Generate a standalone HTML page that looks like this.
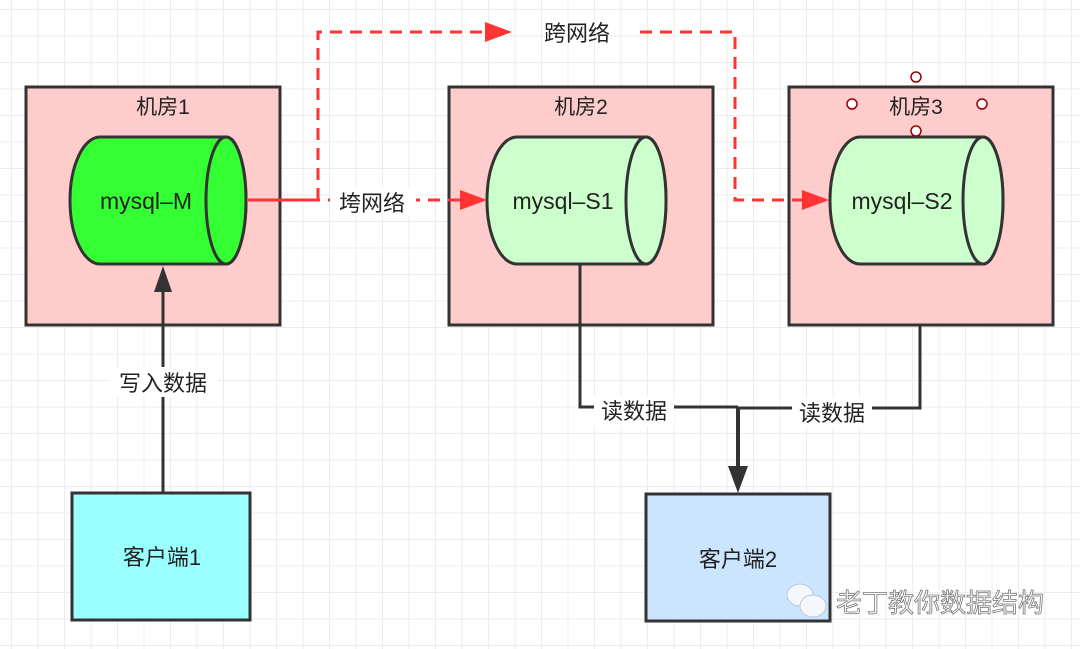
<!DOCTYPE html>
<html><head><meta charset="utf-8"><style>
body{margin:0;width:1080px;height:649px;overflow:hidden;background:#fff;
background-image:linear-gradient(#ececec 1px,transparent 1px),linear-gradient(90deg,#ececec 1px,transparent 1px);
background-size:26.5px 26.5px;background-position:11px 9px;}
svg{position:absolute;left:0;top:0}
text{font-family:"Liberation Sans","Noto Sans CJK SC",sans-serif;fill:#222;}
</style></head><body>
<svg width="1080" height="649" viewBox="0 0 1080 649">
<g stroke="#333" stroke-width="3" fill="#ffcccc">
<rect x="26" y="87" width="254" height="238"/>
<rect x="449" y="87" width="264" height="238"/>
<rect x="789" y="87" width="264" height="238"/>
</g>
<g stroke="#333" stroke-width="3">
<path d="M100,137 H226 A20,63.5 0 0 1 226,264 H100 A30,63.5 0 0 1 100,137 Z" fill="#33ff33"/>
<ellipse cx="226" cy="200.5" rx="20" ry="63.5" fill="#33ff33"/>
<path d="M517,137 H646 A20,63.5 0 0 1 646,264 H517 A30,63.5 0 0 1 517,137 Z" fill="#ccffcc"/>
<ellipse cx="646" cy="200.5" rx="20" ry="63.5" fill="#ccffcc"/>
<path d="M860,137 H983 A20,63.5 0 0 1 983,264 H860 A30,63.5 0 0 1 860,137 Z" fill="#ccffcc"/>
<ellipse cx="983" cy="200.5" rx="20" ry="63.5" fill="#ccffcc"/>
</g>
<g stroke="#333" stroke-width="3">
<rect x="72" y="493" width="178" height="127" fill="#99ffff"/>
<rect x="646" y="494" width="184" height="127" fill="#cce5ff"/>
</g>
<line x1="163" y1="493" x2="163" y2="290" stroke="#333" stroke-width="3"/>
<path d="M163,266 L154,292 L172,292 Z" fill="#333"/>
<rect x="110" y="367" width="108" height="30" fill="#fff"/>
<text x="163" y="391" font-size="22" text-anchor="middle">写入数据</text>
<g stroke="#ff3333" stroke-width="3" fill="none" stroke-dasharray="12,8">
<path d="M248,200 H470"/>
<path d="M318,200 V32 H490"/>
<path d="M640,32 H735 V200 H806"/>
</g>
<path d="M248,200 H318" stroke="#ff3333" stroke-width="3"/>
<g fill="#ff3333">
<path d="M487,200 L460,190 L460,210 Z"/>
<path d="M512,32 L485,22 L485,42 Z"/>
<path d="M829,200 L802,190 L802,210 Z"/>
</g>
<rect x="330" y="187" width="86" height="28" fill="#fff"/>
<text x="372" y="211" font-size="22" text-anchor="middle">垮网络</text>
<text x="577" y="41" font-size="22" text-anchor="middle">跨网络</text>
<g stroke="#333" stroke-width="3" fill="none">
<path d="M580,264 V407 H738"/>
<path d="M920,325 V408 H738"/>
<path d="M738,407 V468" stroke-width="4"/>
</g>
<path d="M738,493 L728,466 L748,466 Z" fill="#333"/>
<rect x="594" y="396" width="80" height="30" fill="#fff"/>
<text x="634" y="419" font-size="22" text-anchor="middle">读数据</text>
<rect x="792" y="398" width="80" height="30" fill="#fff"/>
<text x="832" y="421" font-size="22" text-anchor="middle">读数据</text>
<text x="163" y="114" font-size="21" text-anchor="middle">机房1</text>
<text x="581" y="114" font-size="21" text-anchor="middle">机房2</text>
<text x="916" y="114" font-size="21" text-anchor="middle">机房3</text>
<text x="146" y="209" font-size="23" text-anchor="middle">mysql–M</text>
<text x="563" y="209" font-size="23" text-anchor="middle">mysql–S1</text>
<text x="902" y="209" font-size="23" text-anchor="middle">mysql–S2</text>
<text x="162" y="565" font-size="22" text-anchor="middle">客户端1</text>
<text x="738" y="567" font-size="22" text-anchor="middle">客户端2</text>
<g stroke="#990000" stroke-width="1.5" fill="#fff">
<circle cx="916" cy="77" r="5"/><circle cx="852" cy="104" r="5"/><circle cx="982" cy="104" r="5"/><circle cx="916" cy="131" r="5"/>
</g>
<g fill="#f4f8fc" stroke="#b8c8d8" stroke-width="1">
<ellipse cx="800" cy="595" rx="13" ry="11"/>
<ellipse cx="813" cy="606" rx="13" ry="11"/>
</g>
<text x="836" y="612" font-size="26" style="fill:#fff;stroke:#777;stroke-width:0.8">老丁教你数据结构</text>
</svg>
</body></html>
